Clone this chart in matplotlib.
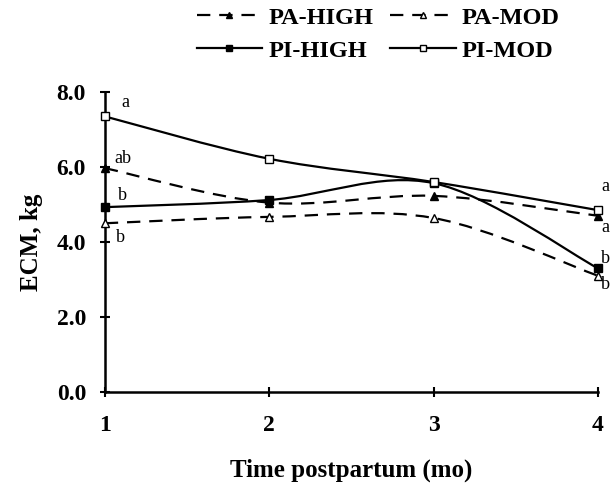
import numpy as np
import matplotlib
matplotlib.use("Agg")
import matplotlib.pyplot as plt
from matplotlib.path import Path
from matplotlib.patches import PathPatch
from matplotlib.lines import Line2D

plt.rcParams.update({
    "font.family": "serif",
    "font.serif": ["Liberation Serif", "DejaVu Serif"],
    "font.weight": "bold",
})

# ---- data ----
months = [1, 2, 3, 4]
pa_high = [5.97, 5.05, 5.23, 4.70]
pa_mod = [4.50, 4.67, 4.64, 3.10]
pi_high = [4.93, 5.12, 5.57, 3.30]
pi_mod = [7.35, 6.22, 5.60, 4.85]

# significance letters: (text, x, y)
letters = [("a", 1.10, 7.72), ("ab", 1.06, 6.22), ("b", 1.08, 5.25), ("b", 1.07, 4.12),
           ("a", 4.02, 5.49), ("a", 4.02, 4.38), ("b", 4.02, 3.57), ("b", 4.02, 2.88)]

fig = plt.figure(figsize=(6.13, 4.99), dpi=100)
ax = fig.add_axes([0.171, 0.2144, 0.8045, 0.6012])


def smooth(ax, xs, ys, ls):
    # Excel-like smoothed line drawn as cubic Bezier in data coords
    xs = np.asarray(xs, float)
    ys = np.asarray(ys, float)
    n = len(xs)
    t = 1.0 / 6.0
    verts = [(xs[0], ys[0])]
    codes = [Path.MOVETO]
    for i in range(n - 1):
        x0, y0 = (xs[i - 1], ys[i - 1]) if i > 0 else (xs[i], ys[i])
        x3, y3 = (xs[i + 2], ys[i + 2]) if i + 2 < n else (xs[i + 1], ys[i + 1])
        c1 = (xs[i] + (xs[i + 1] - x0) * t, ys[i] + (ys[i + 1] - y0) * t)
        c2 = (xs[i + 1] - (x3 - xs[i]) * t, ys[i + 1] - (y3 - ys[i]) * t)
        verts += [c1, c2, (xs[i + 1], ys[i + 1])]
        codes += [Path.CURVE4] * 3
    patch = PathPatch(Path(verts, codes), facecolor="none", edgecolor="black",
                      lw=1.6, linestyle=ls, clip_on=False, zorder=3)
    ax.add_patch(patch)


dash = (0, (6, 4))
series = {
    "PA-HIGH": (pa_high, dash, "^", "black"),
    "PA-MOD": (pa_mod, dash, "^", "white"),
    "PI-HIGH": (pi_high, "-", "s", "black"),
    "PI-MOD": (pi_mod, "-", "s", "white"),
}
handles = {}
for lab, (ys, ls, mk, fc) in series.items():
    smooth(ax, months, ys, ls)
    ax.plot(months, ys, ls="none", marker=mk, ms=5.5, mfc=fc, mec="black",
            mew=1.0, clip_on=False, zorder=4)
    handles[lab] = Line2D([], [], color="black", lw=1.6, ls=ls, marker=mk,
                          ms=4, mfc=fc, mec="black", label=lab)

for txt, x, y in letters:
    ax.text(x, y, txt, fontsize=13, fontweight="normal", ha="left", va="center")

ax.set_xlim(1, 4)
ax.set_ylim(0, 8)
ax.set_xticks(months)
ax.set_yticks([0, 2, 4, 6, 8])
ax.set_yticklabels(["0.0", "2.0", "4.0", "6.0", "8.0"])
ax.tick_params(direction="inout", length=7, width=1.5, labelsize=17)
ax.tick_params(axis="y", pad=10)
ax.tick_params(axis="x", pad=13)
for s in ["top", "right"]:
    ax.spines[s].set_visible(False)
for s in ["left", "bottom"]:
    ax.spines[s].set_linewidth(1.8)

ax.set_xlabel("Time postpartum (mo)", fontsize=18, fontweight="bold", labelpad=16)
ax.set_ylabel("ECM, kg", fontsize=18, fontweight="bold", labelpad=10)

order = ["PA-HIGH", "PI-HIGH", "PA-MOD", "PI-MOD"]
fig.legend(handles=[handles[k] for k in order], ncol=2, loc="upper left",
           bbox_to_anchor=(0.285, 1.03), frameon=False, handlelength=2.7,
           columnspacing=0.7, labelspacing=0.45, handletextpad=0.25,
           prop={"family": "serif", "weight": "bold", "size": 17.5})

fig.savefig("out.png", dpi=100, facecolor="white")
